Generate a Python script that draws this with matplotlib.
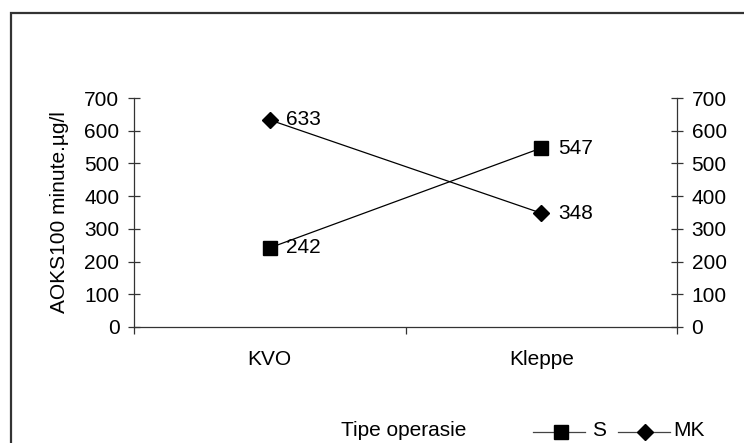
import matplotlib
matplotlib.use("Agg")
import matplotlib.pyplot as plt
from matplotlib.lines import Line2D
from matplotlib.patches import Rectangle

plt.rcParams['font.family'] = ['Liberation Sans', 'DejaVu Sans']

categories = ["KVO", "Kleppe"]
s_values = [242, 547]
mk_values = [633, 348]
y_ticks = [0, 100, 200, 300, 400, 500, 600, 700]

W, H = 744, 443
fig = plt.figure(figsize=(W / 100, H / 100), dpi=100)

# outer chart frame
fig.patches.append(Rectangle((11 / W, -0.05), 1.1, (H - 13) / H + 0.05,
                             transform=fig.transFigure, fill=False,
                             edgecolor='#333333', linewidth=1.6))

ax = fig.add_axes([134 / W, 1 - 327 / H, (677 - 134) / W, (327 - 98) / H])
ax.set_xlim(0, 2)
ax.set_ylim(0, 700)
ax.spines['top'].set_visible(False)
for sp in ['left', 'right', 'bottom']:
    ax.spines[sp].set_color('#333333')
    ax.spines[sp].set_linewidth(0.9)

xs = [0.5, 1.5]
ax.plot(xs, s_values, color='black', lw=0.9, marker='s', ms=10.5,
        markerfacecolor='black', markeredgecolor='black', clip_on=False)
ax.plot(xs, mk_values, color='black', lw=0.9, marker='D', ms=8,
        markerfacecolor='black', markeredgecolor='black', clip_on=False)

fs = 15
for x, v in zip(xs, s_values):
    ax.annotate(str(v), (x, v), xytext=(12, 0), textcoords='offset points',
                va='center', ha='left', fontsize=fs)
for x, v in zip(xs, mk_values):
    ax.annotate(str(v), (x, v), xytext=(12, 0), textcoords='offset points',
                va='center', ha='left', fontsize=fs)

# y axes on both sides with crossing ticks
ax.set_yticks(y_ticks)
ax.tick_params(axis='y', which='both', direction='inout', length=9, width=0.9,
               color='#333333', labelsize=fs, left=True, right=True,
               labelleft=True, labelright=True, pad=6)
ax.set_ylabel("AOKS100 minute.µg/l", fontsize=fs, labelpad=11)

# category axis: ticks at boundaries, labels centred in each category
ax.set_xticks([0, 1, 2])
ax.set_xticklabels([])
ax.tick_params(axis='x', direction='out', length=5, width=0.9, color='#333333')
for x, c in zip(xs, categories):
    ax.text(x, -0.14, c, transform=ax.get_xaxis_transform(), ha='center',
            va='center', fontsize=fs)

# legend row
fig.text(404 / W, 1 - 431 / H, "Tipe operasie", ha='center', va='center', fontsize=fs)
ax_leg = fig.add_axes([0, 0, 1, 1], facecolor='none')
ax_leg.set_xlim(0, W)
ax_leg.set_ylim(H, 0)
ax_leg.axis('off')
ax_leg.add_line(Line2D([533, 585], [432, 432], color='#444444', lw=0.9))
ax_leg.plot([561], [432], marker='s', ms=10.5, color='black')
ax_leg.text(592, 431, "S", ha='left', va='center', fontsize=fs)
ax_leg.add_line(Line2D([618, 670], [432, 432], color='#444444', lw=0.9))
ax_leg.plot([645], [432], marker='D', ms=8, color='black')
ax_leg.text(673, 431, "MK", ha='left', va='center', fontsize=fs)

fig.savefig("out.png", dpi=100)
